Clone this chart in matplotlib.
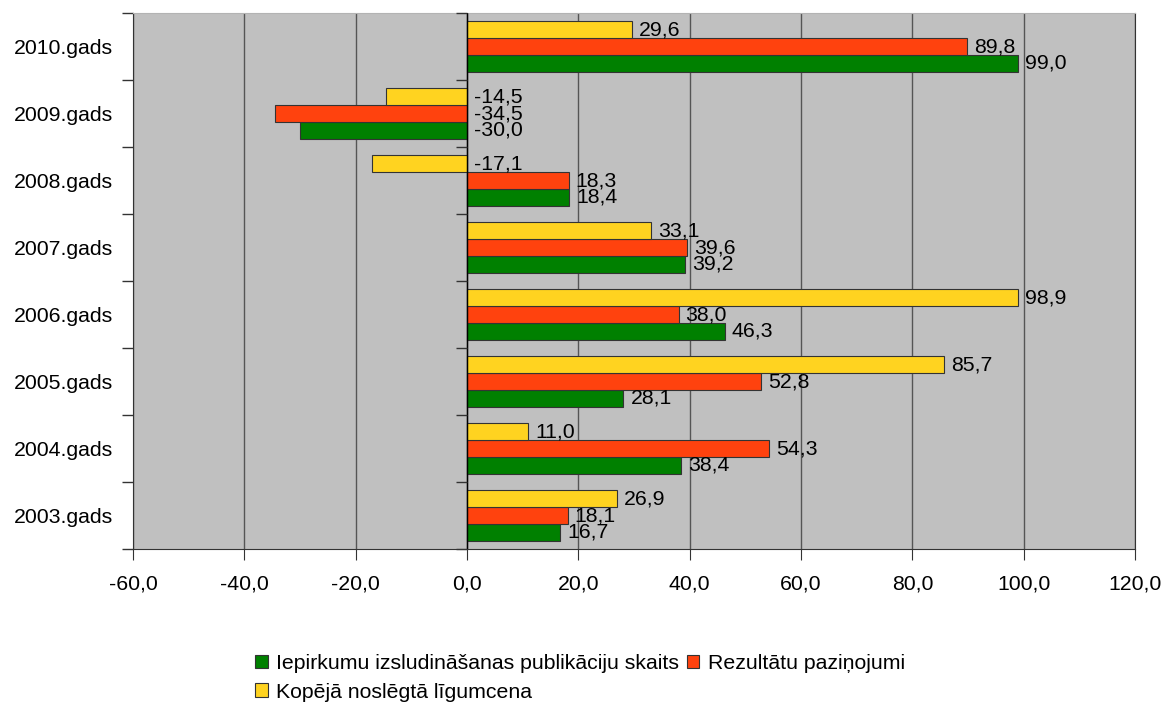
import matplotlib
matplotlib.use('agg')
import matplotlib.pyplot as plt
import numpy as np

plt.rcParams['font.family'] = ['Liberation Sans', 'DejaVu Sans']

years = ['2003.gads', '2004.gads', '2005.gads', '2006.gads',
         '2007.gads', '2008.gads', '2009.gads', '2010.gads']
publikacijas = [16.7, 38.4, 28.1, 46.3, 39.2, 18.4, -30.0, 99.0]
rezultati = [18.1, 54.3, 52.8, 38.0, 39.6, 18.3, -34.5, 89.8]
ligumcena = [26.9, 11.0, 85.7, 98.9, 33.1, -17.1, -14.5, 29.6]

names = ['Iepirkumu izsludināšanas publikāciju skaits',
         'Rezultātu paziņojumi',
         'Kopējā noslēgtā līgumcena']
colors = ['#008000', '#ff420e', '#ffd320']
fs = 15.3

fig = plt.figure(figsize=(11.64, 7.03), dpi=100)
ax = fig.add_axes([0.1143, 0.219, 0.8608, 0.7625])
ax.set_facecolor('#c0c0c0')

y = np.arange(len(years))
h = 0.25
bars = []
for k, (vals, c) in enumerate(zip([publikacijas, rezultati, ligumcena], colors)):
    pos = y + (k - 1) * h
    b = ax.barh(pos, vals, height=h, color=c, edgecolor='#333333',
                linewidth=0.8, zorder=3, label=names[k])
    bars.append(b)
    for p, v in zip(pos, vals):
        txt = f'{v:.1f}'.replace('.', ',')
        ax.annotate(txt, (max(v, 0), p), xytext=(5, 0), textcoords='offset points',
                    va='center', ha='left', fontsize=fs, zorder=5)

ax.set_xlim(-60, 120)
ax.set_ylim(-0.5, len(years) - 0.5)
ax.set_xticks(np.arange(-60, 121, 20))
ax.set_xticklabels([f'{t:.1f}'.replace('.', ',') for t in np.arange(-60, 121, 20)])
ax.set_yticks(y)
ax.set_yticklabels(years)
ax.tick_params(axis='y', length=0, pad=14.5, labelsize=fs)
ax.tick_params(axis='x', length=8, pad=10.5, labelsize=fs, color='#333333')

# category boundary ticks
bounds = np.arange(len(years) + 1) - 0.5
ax.set_yticks(bounds, minor=True)
ax.tick_params(axis='y', which='minor', length=8, color='#333333', width=1)

ax.xaxis.grid(True, color='#555555', linewidth=1, zorder=1)
ax.axvline(0, color='black', linewidth=1, zorder=4)
ax.plot(np.zeros(len(bounds)), bounds, linestyle='none', marker=0,
        markersize=8, color='#333333', clip_on=False, zorder=4)

for s in ['left', 'right', 'bottom']:
    ax.spines[s].set_color('#333333')
ax.spines['top'].set_color('#b3b3b3')

# legend order gives row 1: green, red; row 2: yellow
handles = [bars[0], bars[2], bars[1]]
labels = [names[0], names[2], names[1]]
fig.legend(handles, labels, loc='upper left',
           bbox_to_anchor=(0.219, 1 - 654 / 703), bbox_transform=fig.transFigure,
           ncol=2, frameon=False, fontsize=fs, handlelength=0.6, handleheight=0.6,
           handletextpad=0.4, columnspacing=0.35, labelspacing=0.45, borderaxespad=0,
           borderpad=0)

fig.savefig('out.png', dpi=100)
